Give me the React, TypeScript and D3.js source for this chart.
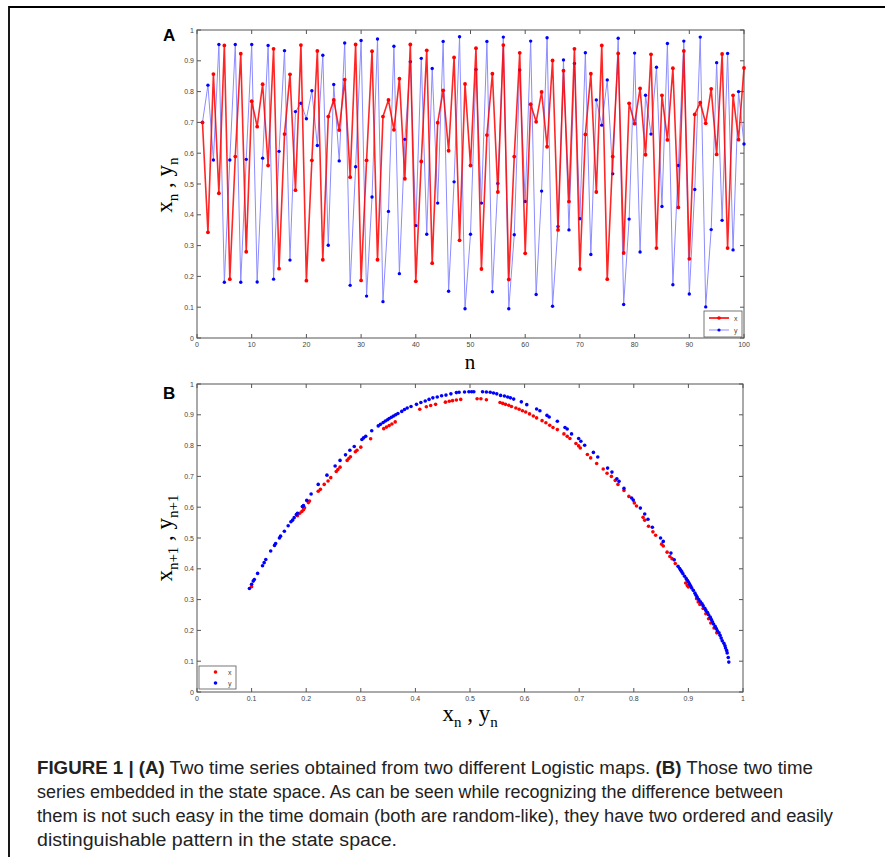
import React from 'react';
import * as d3 from 'd3';

// panel A: two logistic-map time series, n = 1..100
const steps = d3.range(1, 101);
const xSeries = [
  0.700, 0.343, 0.857, 0.470, 0.950, 0.191, 0.589, 0.923, 0.280, 0.769,
  0.686, 0.824, 0.560, 0.939, 0.225, 0.662, 0.856, 0.480, 0.951, 0.186,
  0.577, 0.932, 0.254, 0.719, 0.773, 0.675, 0.839, 0.522, 0.953, 0.187,
  0.577, 0.931, 0.254, 0.719, 0.773, 0.676, 0.842, 0.517, 0.953, 0.184,
  0.573, 0.934, 0.243, 0.699, 0.804, 0.608, 0.911, 0.317, 0.825, 0.560,
  0.941, 0.224, 0.659, 0.858, 0.474, 0.951, 0.190, 0.589, 0.926, 0.275,
  0.759, 0.702, 0.799, 0.621, 0.901, 0.351, 0.868, 0.443, 0.939, 0.224,
  0.661, 0.858, 0.474, 0.950, 0.191, 0.589, 0.924, 0.276, 0.762, 0.696,
  0.810, 0.595, 0.921, 0.292, 0.788, 0.643, 0.876, 0.424, 0.932, 0.257,
  0.726, 0.764, 0.697, 0.809, 0.596, 0.922, 0.292, 0.788, 0.644, 0.877,
];
const ySeries = [
  0.700, 0.821, 0.578, 0.953, 0.181, 0.578, 0.953, 0.181, 0.580, 0.953,
  0.182, 0.584, 0.950, 0.191, 0.606, 0.933, 0.253, 0.735, 0.762, 0.712,
  0.803, 0.625, 0.918, 0.301, 0.823, 0.575, 0.958, 0.171, 0.556, 0.966,
  0.136, 0.458, 0.971, 0.118, 0.411, 0.947, 0.209, 0.645, 0.897, 0.365,
  0.908, 0.337, 0.875, 0.438, 0.963, 0.152, 0.507, 0.978, 0.095, 0.337,
  0.872, 0.438, 0.963, 0.150, 0.502, 0.977, 0.095, 0.335, 0.870, 0.443,
  0.964, 0.141, 0.477, 0.975, 0.103, 0.362, 0.903, 0.351, 0.891, 0.387,
  0.926, 0.271, 0.773, 0.691, 0.838, 0.533, 0.973, 0.109, 0.386, 0.925,
  0.279, 0.788, 0.662, 0.879, 0.427, 0.956, 0.173, 0.560, 0.964, 0.143,
  0.482, 0.977, 0.101, 0.352, 0.894, 0.382, 0.924, 0.286, 0.800, 0.630,
];

// panel B: state space points [value_n, value_n+1]
const redMap: [number, number][] = [
  [0.100, 0.342], [0.184, 0.572], [0.188, 0.580], [0.192, 0.586], [0.195, 0.592],
  [0.197, 0.598], [0.204, 0.615], [0.206, 0.620], [0.222, 0.652], [0.226, 0.658],
  [0.233, 0.674], [0.240, 0.685], [0.245, 0.696], [0.255, 0.716], [0.258, 0.722],
  [0.262, 0.730], [0.275, 0.752], [0.278, 0.758], [0.281, 0.764], [0.290, 0.780],
  [0.293, 0.785], [0.300, 0.795], [0.318, 0.822], [0.342, 0.855], [0.347, 0.860],
  [0.352, 0.865], [0.357, 0.870], [0.363, 0.877], [0.408, 0.918], [0.420, 0.926],
  [0.428, 0.930], [0.437, 0.934], [0.455, 0.941], [0.462, 0.944], [0.468, 0.946],
  [0.475, 0.948], [0.483, 0.950], [0.513, 0.952], [0.520, 0.952], [0.530, 0.949],
  [0.555, 0.940], [0.560, 0.937], [0.565, 0.934], [0.571, 0.931], [0.576, 0.927],
  [0.584, 0.922], [0.590, 0.918], [0.596, 0.913], [0.602, 0.909], [0.609, 0.903],
  [0.616, 0.896], [0.622, 0.890], [0.632, 0.881], [0.639, 0.874], [0.646, 0.866],
  [0.652, 0.859], [0.660, 0.852], [0.672, 0.838], [0.678, 0.830], [0.683, 0.823],
  [0.694, 0.807], [0.699, 0.799], [0.702, 0.792], [0.715, 0.771], [0.721, 0.760],
  [0.732, 0.742], [0.744, 0.724], [0.751, 0.710], [0.759, 0.700], [0.766, 0.687],
  [0.771, 0.674], [0.782, 0.654], [0.791, 0.635], [0.801, 0.614], [0.805, 0.604],
  [0.817, 0.567], [0.820, 0.558], [0.827, 0.538], [0.835, 0.520], [0.840, 0.509],
  [0.851, 0.480], [0.854, 0.474], [0.861, 0.454], [0.866, 0.440], [0.870, 0.433],
  [0.876, 0.417], [0.895, 0.354], [0.898, 0.346], [0.900, 0.341], [0.915, 0.303],
  [0.918, 0.292], [0.921, 0.284], [0.927, 0.271], [0.932, 0.254], [0.937, 0.238],
  [0.941, 0.224], [0.947, 0.208], [0.952, 0.192],
];
const blueMap: [number, number][] = [
  [0.096, 0.336], [0.100, 0.350], [0.103, 0.360], [0.105, 0.365], [0.111, 0.385],
  [0.120, 0.410], [0.123, 0.420], [0.126, 0.430], [0.135, 0.458], [0.142, 0.476],
  [0.144, 0.482], [0.151, 0.500], [0.153, 0.506], [0.160, 0.522], [0.167, 0.540],
  [0.172, 0.553], [0.175, 0.558], [0.178, 0.566], [0.182, 0.576], [0.184, 0.580],
  [0.193, 0.602], [0.195, 0.605], [0.201, 0.622], [0.209, 0.643], [0.222, 0.674],
  [0.238, 0.704], [0.253, 0.734], [0.262, 0.752], [0.272, 0.770], [0.280, 0.785],
  [0.288, 0.797], [0.302, 0.820], [0.305, 0.825], [0.309, 0.830], [0.320, 0.848],
  [0.332, 0.864], [0.336, 0.869], [0.341, 0.875], [0.345, 0.880], [0.349, 0.884],
  [0.352, 0.888], [0.356, 0.892], [0.360, 0.896], [0.364, 0.900], [0.368, 0.904],
  [0.375, 0.911], [0.380, 0.917], [0.385, 0.922], [0.392, 0.927], [0.402, 0.934],
  [0.410, 0.940], [0.418, 0.945], [0.425, 0.950], [0.432, 0.955], [0.440, 0.958],
  [0.448, 0.962], [0.456, 0.964], [0.465, 0.968], [0.475, 0.972], [0.480, 0.973],
  [0.490, 0.974], [0.498, 0.975], [0.503, 0.975], [0.507, 0.975], [0.523, 0.975],
  [0.530, 0.974], [0.537, 0.973], [0.543, 0.971], [0.549, 0.968], [0.556, 0.963],
  [0.563, 0.961], [0.569, 0.958], [0.574, 0.955], [0.580, 0.951], [0.594, 0.942],
  [0.604, 0.933], [0.622, 0.919], [0.628, 0.913], [0.641, 0.898], [0.645, 0.893],
  [0.660, 0.879], [0.674, 0.859], [0.678, 0.854], [0.686, 0.838], [0.699, 0.823],
  [0.703, 0.814], [0.710, 0.801], [0.726, 0.778], [0.734, 0.763], [0.752, 0.727],
  [0.760, 0.714], [0.769, 0.692], [0.773, 0.684], [0.782, 0.661], [0.796, 0.630],
  [0.799, 0.623], [0.812, 0.597], [0.820, 0.578], [0.826, 0.561], [0.834, 0.535],
  [0.849, 0.500], [0.854, 0.489], [0.868, 0.451], [0.874, 0.429], [0.881, 0.408],
  [0.884, 0.401], [0.886, 0.395], [0.888, 0.390], [0.890, 0.384], [0.893, 0.376],
  [0.896, 0.368], [0.898, 0.363], [0.900, 0.357], [0.902, 0.351], [0.904, 0.345],
  [0.906, 0.338], [0.909, 0.330], [0.912, 0.321], [0.914, 0.314], [0.916, 0.308],
  [0.919, 0.300], [0.922, 0.293], [0.925, 0.286], [0.927, 0.280], [0.930, 0.272],
  [0.932, 0.265], [0.935, 0.258], [0.937, 0.251], [0.940, 0.243], [0.942, 0.235],
  [0.944, 0.228], [0.946, 0.221], [0.949, 0.213], [0.951, 0.206], [0.953, 0.199],
  [0.956, 0.192], [0.958, 0.184], [0.960, 0.175], [0.962, 0.166], [0.965, 0.158],
  [0.967, 0.150], [0.968, 0.143], [0.970, 0.135], [0.971, 0.127], [0.973, 0.112],
  [0.974, 0.097],
];

const ticksA = d3.range(0, 101, 10);
const ticksB = d3.range(0, 11).map(d => d / 10);

const captionLines = [
  [['FIGURE 1 | (A)', true], [' Two time series obtained from two different Logistic maps. ', false], ['(B)', true], [' Those two time', false]],
  [['series embedded in the state space. As can be seen while recognizing the difference between', false]],
  [['them is not such easy in the time domain (both are random-like), they have two ordered and easily', false]],
  [['distinguishable pattern in the state space.', false]],
] as [string, boolean][][];
const captionWidths = [776, 746, 796, 360];

const RED = '#ff0000';
const BLUE = '#0000ff';
const BLUE_LINE = '#8c8cff';
const tickFont = 'Liberation Sans, Arial, sans-serif';
const serif = 'Liberation Serif, Times New Roman, serif';

function Frame({ x, y, xTicks, yTicks, fmtX }: any) {
  const [x0, x1] = x.range();
  const [y0, y1] = y.range();
  const tl = 4;
  return (
    <g>
      <rect x={x0} y={y1} width={x1 - x0} height={y0 - y1} fill="#fff" stroke="#555" strokeWidth={1} />
      {xTicks.map((t: number) => (
        <g key={'x' + t}>
          <line x1={x(t)} x2={x(t)} y1={y0} y2={y0 - tl} stroke="#555" />
          <line x1={x(t)} x2={x(t)} y1={y1} y2={y1 + tl} stroke="#555" />
          <text x={x(t)} y={y0 + 9} fontSize={7} fill="#444" textAnchor="middle" fontFamily={tickFont}>{fmtX(t)}</text>
        </g>
      ))}
      {yTicks.map((t: number) => (
        <g key={'y' + t}>
          <line x1={x0} x2={x0 + tl} y1={y(t)} y2={y(t)} stroke="#555" />
          <line x1={x1} x2={x1 - tl} y1={y(t)} y2={y(t)} stroke="#555" />
          <text x={x0 - 3} y={y(t) + 2.5} fontSize={7} fill="#444" textAnchor="end" fontFamily={tickFont}>{String(t)}</text>
        </g>
      ))}
    </g>
  );
}

export default function App() {
  const xA = d3.scaleLinear().domain([0, 100]).range([197, 744]);
  const yA = d3.scaleLinear().domain([0, 1]).range([338, 30]);
  const xB = d3.scaleLinear().domain([0, 1]).range([197, 743]);
  const yB = d3.scaleLinear().domain([0, 1]).range([692, 384]);

  const lineA = (vals: number[]) =>
    d3.line<number>().x((_, i) => xA(steps[i])).y(d => yA(d))(vals) || '';

  return (
    <svg width={885} height={857} style={{ position: 'absolute', left: 0, top: 0, background: '#fff' }}>
      {/* figure border */}
      <path d="M9,857 V7 H885" fill="none" stroke="#000" strokeWidth={1.8} />

      {/* Panel A */}
      <Frame x={xA} y={yA} xTicks={ticksA} yTicks={ticksB} fmtX={(t: number) => String(t)} />
      <path d={lineA(ySeries)} fill="none" stroke={BLUE_LINE} strokeWidth={1} />
      {ySeries.map((v, i) => <circle key={'yb' + i} cx={xA(steps[i])} cy={yA(v)} r={1.7} fill={BLUE} />)}
      <path d={lineA(xSeries)} fill="none" stroke={RED} strokeOpacity={0.85} strokeWidth={1.6} />
      {xSeries.map((v, i) => <circle key={'xr' + i} cx={xA(steps[i])} cy={yA(v)} r={1.9} fill={RED} />)}
      <text x={163} y={41} fontSize={17} fontWeight="bold" fontFamily={tickFont}>A</text>
      <g>
        <rect x={704} y={311} width={38} height={26} fill="#fff" stroke="#555" strokeWidth={0.8} />
        <line x1={709} x2={729} y1={318} y2={318} stroke={RED} strokeWidth={1.6} />
        <circle cx={719} cy={318} r={1.8} fill={RED} />
        <text x={734} y={320.5} fontSize={7} fill="#444" fontFamily={tickFont}>x</text>
        <line x1={709} x2={729} y1={330} y2={330} stroke={BLUE_LINE} strokeWidth={1} />
        <circle cx={719} cy={330} r={1.6} fill={BLUE} />
        <text x={734} y={332.5} fontSize={7} fill="#444" fontFamily={tickFont}>y</text>
      </g>
      <text transform="translate(172,185) rotate(-90)" textAnchor="middle" fontFamily={serif} fontSize={23}>
        x<tspan dy={6} fontSize={15}>n</tspan><tspan dy={-6}> , y</tspan><tspan dy={6} fontSize={15}>n</tspan>
      </text>
      <text x={470} y={369} textAnchor="middle" fontFamily={serif} fontSize={21}>n</text>

      {/* Panel B */}
      <Frame x={xB} y={yB} xTicks={ticksB} yTicks={ticksB} fmtX={(t: number) => String(t)} />
      {redMap.map(([a, b], i) => <circle key={'rm' + i} cx={xB(a)} cy={yB(b)} r={1.8} fill={RED} />)}
      {blueMap.map(([a, b], i) => <circle key={'bm' + i} cx={xB(a)} cy={yB(b)} r={1.8} fill={BLUE} />)}
      <text x={163} y={399} fontSize={17} fontWeight="bold" fontFamily={tickFont}>B</text>
      <g>
        <rect x={199} y={666} width={37} height={23} fill="#fff" stroke="#555" strokeWidth={0.8} />
        <circle cx={215.5} cy={672} r={1.8} fill={RED} />
        <text x={228} y={674.5} fontSize={7} fill="#444" fontFamily={tickFont}>x</text>
        <circle cx={215.5} cy={683} r={1.8} fill={BLUE} />
        <text x={228} y={685.5} fontSize={7} fill="#444" fontFamily={tickFont}>y</text>
      </g>
      <text transform="translate(172,538) rotate(-90)" textAnchor="middle" fontFamily={serif} fontSize={23}>
        x<tspan dy={6} fontSize={15}>n+1</tspan><tspan dy={-6}> , y</tspan><tspan dy={6} fontSize={15}>n+1</tspan>
      </text>
      <text x={470} y={721} textAnchor="middle" fontFamily={serif} fontSize={23}>
        x<tspan dy={6} fontSize={15}>n</tspan><tspan dy={-6}> , y</tspan><tspan dy={6} fontSize={15}>n</tspan>
      </text>

      {/* caption */}
      {captionLines.map((parts, li) => (
        <text key={'c' + li} x={37} y={774 + li * 24} fontSize={18} fill="#222"
          fontFamily="'Liberation Sans Narrow', 'Liberation Sans', Arial, sans-serif"
          textLength={captionWidths[li]} lengthAdjust="spacingAndGlyphs">
          {parts.map(([t, b], k) => <tspan key={k} fontWeight={b ? 'bold' : 'normal'}>{t}</tspan>)}
        </text>
      ))}
    </svg>
  );
}
